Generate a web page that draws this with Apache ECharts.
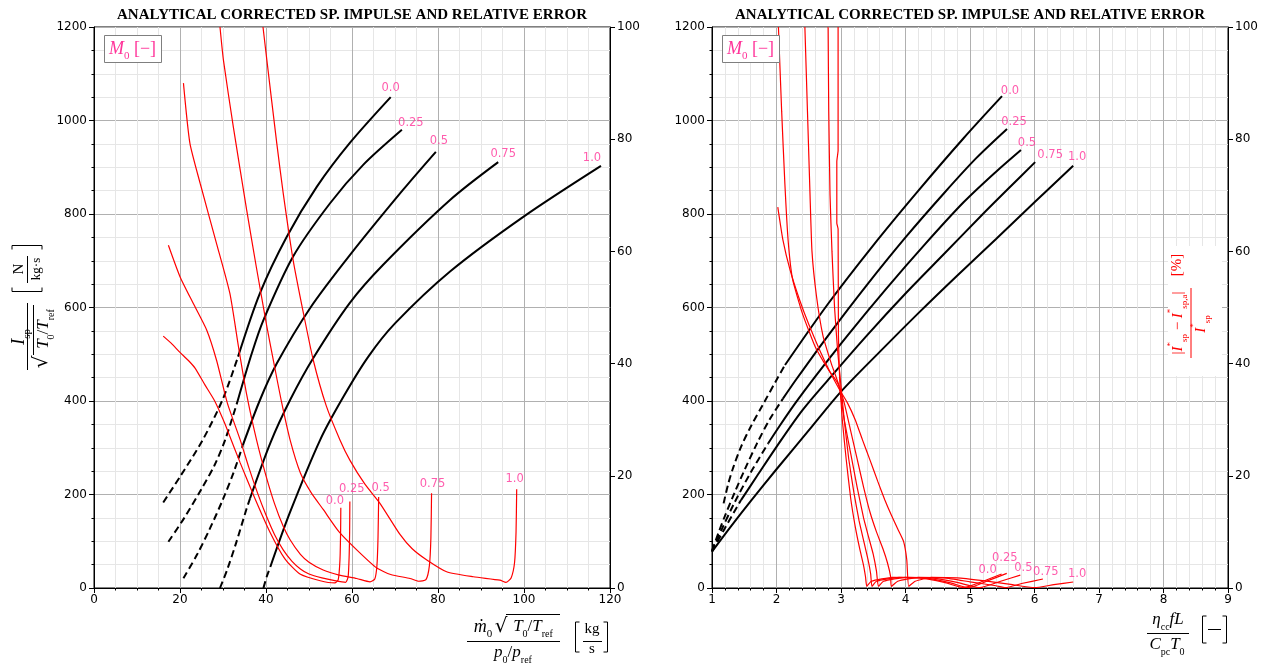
<!DOCTYPE html>
<html>
<head>
<meta charset="utf-8">
<script src="https://cdn.jsdelivr.net/npm/echarts/dist/echarts.min.js"></script>
<style>
  html, body { margin: 0; padding: 0; background: #fff; }
  #chart { width: 1264px; height: 666px; }
</style>
</head>
<body>
<div id="chart"></div>
<script>
// ---------------------------------------------------------------
// Flight Mach number levels (one curve per level in each panel)
// ---------------------------------------------------------------
const machLevels = ['0.0', '0.25', '0.5', '0.75', '1.0'];

// Left panel, black: corrected specific impulse vs corrected mass flow.
// Dashed branch first, then the solid branch (shares the junction point).
const flowIspDashed = [
  [[16.1, 183], [20, 238], [25.3, 317], [30, 405], [33.5, 495]],
  [[17.3, 99], [21, 150], [25, 212], [28, 262], [30.5, 317], [33.4, 400]],
  [[20.8, 21], [24, 72], [27, 128], [30, 190], [32.5, 248], [34.6, 305]],
  [[29.3, 0], [31, 40], [33, 95], [35.5, 170], [36.3, 192]],
  [[39.4, 0], [40.2, 25], [41, 45]]
];
const flowIspSolid = [
  [[33.5, 495], [38.6, 631], [44.8, 751], [51.8, 858], [59.5, 952], [69, 1050]],
  [[33.4, 400], [36.7, 502], [39.4, 573], [46.3, 709], [54.9, 823], [62.6, 905], [71.6, 980]],
  [[34.6, 305], [38.5, 400], [42.5, 480], [50.2, 598], [59.5, 712], [71.9, 852], [79.5, 933]],
  [[36.3, 192], [41, 310], [45.6, 402], [51, 492], [59.5, 610], [67.3, 692], [82.8, 830], [94, 911]],
  [[41, 45], [45.5, 160], [52.6, 317], [58, 409], [63.8, 495], [70, 566], [82.8, 677], [100, 795], [117.9, 903]]
];
// Left panel, red: relative error [%] vs corrected mass flow
const flowErr = [
  [[16.1, 44.9], [18, 43.6], [20, 42], [21.9, 40.6], [23.5, 39.2], [25.8, 36.2], [28.1, 33.3], [30.5, 29.2], [31.6, 27], [34, 22.3], [37.4, 16], [40.9, 10], [44.4, 5.2], [47.9, 2.5], [52.6, 1.3], [56, 0.9], [56.8, 1.5], [57.2, 5], [57.35, 10], [57.4, 14.3]],
  [[17.3, 61.1], [20, 55.5], [23.1, 50.7], [26.2, 46], [28.5, 40.6], [31, 33], [34, 26.4], [36, 21.5], [38, 17], [40, 13], [42, 9.5], [44, 6.8], [46, 4.8], [48, 3.4], [50, 2.5], [53, 1.8], [56, 1.3], [58.5, 1.0], [59.1, 2], [59.35, 6], [59.45, 10], [59.5, 15.4]],
  [[20.8, 90], [22.3, 79.3], [24.7, 72.1], [28.5, 61.4], [31.6, 52.5], [33.6, 43], [35.5, 34.5], [37.8, 26.4], [40, 20], [42, 15], [44, 11], [45.6, 8.6], [48, 6], [50, 4.6], [53.3, 3.2], [57, 2.3], [61.1, 1.7], [64.2, 1.1], [65.3, 1.6], [65.8, 4], [66.05, 9], [66.2, 16.2]],
  [[29.3, 100], [30.1, 94.1], [32.4, 82.2], [35.5, 67.4], [37.8, 57], [40.2, 46.6], [41.7, 40.6], [43.6, 33.2], [45.6, 26.4], [48, 20.5], [50.5, 17], [53.3, 14], [57, 10], [61.1, 6.8], [65.7, 3.6], [69, 2.4], [73.5, 1.7], [75.5, 1.2], [77.2, 1.5], [78, 4], [78.35, 9], [78.5, 16.9]],
  [[39.3, 100], [40.2, 94.1], [42.5, 79.3], [44, 70.4], [46.3, 58.5], [48.7, 49], [51, 40.6], [54, 32.5], [57.2, 26.4], [59.5, 22.8], [63, 18.5], [66.5, 15.1], [71.2, 9.5], [74, 7], [77.4, 5.0], [82, 2.9], [88.2, 2.0], [94.4, 1.4], [95.8, 1.0], [97, 1.8], [97.8, 4.5], [98.15, 10], [98.3, 17.6]]
];

// Right panel, black: corrected specific impulse vs heat-addition parameter
const heatIspDashed = [
  [[1.18, 181], [1.25, 222], [1.33, 258], [1.45, 302], [1.6, 345], [1.8, 395], [2.0, 445], [2.132, 477]],
  [[1.0, 80], [1.1, 118], [1.2, 154], [1.35, 204], [1.5, 251], [1.7, 310], [1.9, 362], [2.1, 405]],
  [[1.0, 78], [1.15, 125], [1.35, 183], [1.6, 247], [1.87, 309]],
  [[1.0, 78], [1.2, 128], [1.45, 188]],
  []
];
const heatIspSolid = [
  [[2.132, 477], [2.8, 608], [3.5, 733], [4.2, 850], [4.9, 962], [5.496, 1052]],
  [[2.1, 405], [2.31, 447], [2.8, 540], [3.4, 648], [4.0, 750], [4.6, 845], [5.1, 920], [5.574, 982]],
  [[1.87, 309], [2.05, 347], [2.3, 397], [2.57, 447], [3.1, 540], [3.7, 640], [4.3, 735], [4.9, 825], [5.4, 890], [5.79, 937]],
  [[1.45, 188], [1.7, 240], [2.0, 302], [2.4, 380], [2.83, 450], [3.4, 540], [4.0, 630], [4.6, 715], [5.2, 800], [5.6, 855], [6.01, 911]],
  [[1.0, 78], [1.3, 133], [1.6, 186], [2.0, 254], [2.5, 337], [3.0, 420], [3.6, 505], [4.2, 588], [4.8, 668], [5.4, 746], [6.0, 825], [6.6, 903]]
];
// Right panel, red: relative error [%] vs heat-addition parameter
const heatErr = [
  [[2.955, 100], [2.955, 78], [2.935, 76], [2.935, 65], [2.955, 64], [2.96, 45], [2.98, 37], [3.02, 30], [3.08, 23], [3.15, 16], [3.22, 11], [3.29, 7], [3.35, 4], [3.38, 2], [3.4, 0.3], [3.47, 1.2], [3.8, 1.9], [4.2, 1.8], [4.6, 1.0], [4.9, 0.05], [5.2, 1.2], [5.49, 2.5]],
  [[2.8, 100], [2.81, 85], [2.83, 70], [2.86, 60], [2.9, 50], [2.95, 42], [3.0, 36], [3.05, 30], [3.12, 23], [3.2, 17], [3.28, 12], [3.36, 8], [3.42, 5], [3.46, 2.5], [3.48, 0.3], [3.55, 1.2], [3.9, 1.9], [4.3, 1.8], [4.7, 0.9], [4.98, 0.05], [5.3, 1.4], [5.57, 2.6]],
  [[2.44, 100], [2.48, 85], [2.52, 70], [2.55, 60], [2.62, 52], [2.72, 45], [2.85, 40], [2.97, 36], [3.05, 30], [3.15, 24], [3.25, 18], [3.35, 12.5], [3.43, 9], [3.5, 6], [3.55, 3], [3.58, 0.3], [3.66, 1.2], [4.0, 1.9], [4.4, 1.8], [4.8, 1.0], [5.15, 0.05], [5.5, 1.3], [5.78, 2.3]],
  [[2.03, 100], [2.08, 85], [2.13, 72], [2.18, 62], [2.25, 55], [2.4, 49], [2.6, 43], [2.8, 39], [2.95, 36.5], [3.05, 33], [3.15, 28], [3.25, 23], [3.35, 18], [3.45, 13.5], [3.55, 10], [3.65, 7], [3.72, 4.5], [3.77, 2], [3.78, 0.3], [3.88, 1.2], [4.2, 1.9], [4.6, 1.8], [5.0, 1.1], [5.4, 0.4], [5.55, 0.05], [5.8, 0.8], [6.13, 1.6]],
  [[2.02, 67.9], [2.1, 62], [2.21, 56.7], [2.36, 51.3], [2.5, 47], [2.67, 42.4], [2.83, 38.5], [2.98, 35.3], [3.1, 33], [3.22, 30], [3.33, 26.5], [3.45, 22.8], [3.57, 19], [3.68, 15.7], [3.78, 13], [3.88, 10.5], [3.97, 8.3], [4.02, 5], [4.05, 0.3], [4.15, 1.2], [4.4, 1.9], [4.8, 1.8], [5.2, 1.3], [5.6, 0.7], [6.0, 0.05], [6.3, 0.6], [6.6, 1.07]]
];

// ---------------------------------------------------------------
// Styling / layout
// ---------------------------------------------------------------
const PINK = '#ff3399';
const RED = '#ff0000';
const TICK_FONT = 'DejaVu Sans';
const MATH_FONT = 'Liberation Serif';

// pixel shifts of the level tags relative to the curve end points
const tagShiftFlowIsp = [[0, -9], [9, -7], [3, -11], [5, -8], [-9, -8]];
const tagShiftFlowErr = [[-6, -7], [2, -13], [2, -9], [1, -9], [-2, -10]];
const tagShiftHeatIsp = [[8, -5], [7, -7], [6, -7], [15, -7], [4, -9]];
const tagShiftHeatErr = [[-14, -4], [-2, -15], [3, -7], [3, -7], [4, -8]];

const plainNumber = v => String(v);

function xAxis(gi, min, max, interval, minorSplit) {
  return {
    type: 'value', gridIndex: gi, min, max, interval, position: 'bottom',
    axisLine: { show: true, onZero: false, lineStyle: { color: '#000', width: 1 } },
    axisTick: { show: true, length: 5, lineStyle: { color: '#000' } },
    minorTick: { show: true, splitNumber: minorSplit, length: 2.5, lineStyle: { color: '#000' } },
    axisLabel: { color: '#000', fontSize: 12, fontFamily: TICK_FONT, margin: 6, formatter: plainNumber },
    splitLine: { show: true, lineStyle: { color: '#b0b0b0', width: 1 } },
    minorSplitLine: { show: true, lineStyle: { color: '#e6e6e6', width: 1 } }
  };
}
function yAxisMain(gi) {
  return {
    type: 'value', gridIndex: gi, min: 0, max: 1200, interval: 200, position: 'left',
    axisLine: { show: true, onZero: false, lineStyle: { color: '#000', width: 1 } },
    axisTick: { show: true, length: 5, lineStyle: { color: '#000' } },
    minorTick: { show: true, splitNumber: 4, length: 2.5, lineStyle: { color: '#000' } },
    axisLabel: { color: '#000', fontSize: 12, fontFamily: TICK_FONT, margin: 7, formatter: plainNumber },
    splitLine: { show: true, lineStyle: { color: '#b0b0b0', width: 1 } },
    minorSplitLine: { show: true, lineStyle: { color: '#e6e6e6', width: 1 } }
  };
}
function yAxisErr(gi) {
  return {
    type: 'value', gridIndex: gi, min: 0, max: 100, interval: 20, position: 'right',
    axisLine: { show: true, onZero: false, lineStyle: { color: '#000', width: 1 } },
    axisTick: { show: true, length: 5, lineStyle: { color: '#000' } },
    minorTick: { show: false },
    axisLabel: { color: '#000', fontSize: 12, fontFamily: TICK_FONT, margin: 7, formatter: plainNumber },
    splitLine: { show: false }
  };
}

function curve(data, xi, yi, color, width, type, z, smooth) {
  return {
    type: 'line', xAxisIndex: xi, yAxisIndex: yi, data,
    symbol: 'none', showSymbol: false, smooth: smooth,
    silent: true, z: z, lineStyle: { color, width, type }, clip: true
  };
}
function tags(xi, yi, curves, shifts) {
  return {
    type: 'scatter', xAxisIndex: xi, yAxisIndex: yi, silent: true, z: 20,
    symbolSize: 1, itemStyle: { color: 'rgba(0,0,0,0)' },
    label: { show: true, position: 'inside', color: PINK, fontSize: 11.5, fontFamily: TICK_FONT },
    data: curves.map((c, i) => ({
      value: c[c.length - 1],
      label: { formatter: machLevels[i], offset: shifts[i] }
    }))
  };
}

const series = [];
machLevels.forEach((m, i) => {
  if (flowIspDashed[i].length) series.push(curve(flowIspDashed[i], 0, 0, '#000', 2, [7, 4], 3, 0.3));
  series.push(curve(flowIspSolid[i], 0, 0, '#000', 2, 'solid', 3, 0.3));
  series.push(curve(flowErr[i], 0, 1, RED, 1.2, 'solid', 5, 0.2));
  if (heatIspDashed[i].length) series.push(curve(heatIspDashed[i], 1, 2, '#000', 2, [7, 4], 3, 0.3));
  series.push(curve(heatIspSolid[i], 1, 2, '#000', 2, 'solid', 3, 0.3));
  series.push(curve(heatErr[i], 1, 3, RED, 1.2, 'solid', 5, 0.15));
});
series.push(tags(0, 0, flowIspSolid, tagShiftFlowIsp));
series.push(tags(0, 1, flowErr, tagShiftFlowErr));
series.push(tags(1, 2, heatIspSolid, tagShiftHeatIsp));
series.push(tags(1, 3, heatErr, tagShiftHeatErr));

// ---------------------------------------------------------------
// Math-style annotation helpers (titles, axis names, legend box)
// ---------------------------------------------------------------
function richSet(color, big, small) {
  const base = { fill: color, color: color, fontFamily: MATH_FONT, lineHeight: big + 8 };
  return {
    it: Object.assign({}, base, { fontStyle: 'italic', fontSize: big }),
    rm: Object.assign({}, base, { fontSize: big }),
    rad: Object.assign({}, base, { fontFamily: 'DejaVu Serif', fontSize: big * 1.05 }),
    sub: { fill: color, color: color, fontFamily: MATH_FONT, fontSize: small, verticalAlign: 'bottom' },
    sup: { fill: color, color: color, fontFamily: MATH_FONT, fontSize: small, verticalAlign: 'top' }
  };
}
function txt(x, y, text, opts) {
  opts = opts || {};
  const color = opts.color || '#000';
  return {
    type: 'text', x, y, rotation: opts.rot || 0, silent: true, z: 100,
    style: {
      text, rich: richSet(color, opts.big || 17, opts.small || 11),
      fill: color, font: (opts.big || 17) + 'px "' + MATH_FONT + '"',
      align: 'center', verticalAlign: 'middle', textAlign: 'center', textVerticalAlign: 'middle'
    }
  };
}
function seg(x1, y1, x2, y2, color, w) {
  return { type: 'line', silent: true, z: 100, shape: { x1, y1, x2, y2 }, style: { stroke: color || '#000', lineWidth: w || 1 } };
}
function poly(points, color) {
  return { type: 'polyline', silent: true, z: 100, shape: { points }, style: { stroke: color || '#000', lineWidth: 1, fill: null } };
}
// square brackets drawn as thin strokes
function bracketV(x, y1, y2, dir) {           // upright bracket, dir=+1 for "[" and -1 for "]"
  return poly([[x + 4 * dir, y1], [x, y1], [x, y2], [x + 4 * dir, y2]]);
}
function bracketH(y, x1, x2, dir) {           // bracket turned a quarter, dir=-1 for "[" and +1 for "]"
  return poly([[x1, y + 4 * dir], [x1, y], [x2, y], [x2, y + 4 * dir]]);
}
const UP = Math.PI / 2;
const TITLE = 'ANALYTICAL CORRECTED SP. IMPULSE AND RELATIVE ERROR';
const titleStyle = { text: TITLE, font: 'bold 15px "Liberation Serif"', fill: '#000', align: 'center', verticalAlign: 'middle', textAlign: 'center', textVerticalAlign: 'middle' };

const graphic = [
  // panel titles
  { type: 'text', x: 352, y: 15, silent: true, style: titleStyle },
  { type: 'text', x: 970, y: 15, silent: true, style: titleStyle },

  // level legend boxes
  { type: 'rect', shape: { x: 104.5, y: 35.5, width: 57, height: 27 }, style: { fill: '#fff', stroke: '#7f7f7f', lineWidth: 1 }, z: 90, silent: true },
  txt(132.5, 49, '{it|M}{sub|0} {rm|[−]}', { color: PINK, big: 18, small: 11 }),
  { type: 'rect', shape: { x: 722.5, y: 35.5, width: 57, height: 27 }, style: { fill: '#fff', stroke: '#7f7f7f', lineWidth: 1 }, z: 90, silent: true },
  txt(750.5, 49, '{it|M}{sub|0} {rm|[−]}', { color: PINK, big: 18, small: 11 }),

  // left y-axis name: I_sp / sqrt(T0/Tref)  [N/(kg s)]
  txt(19, 337, '{it|I}{sub|sp}', { rot: UP, big: 19, small: 11 }),
  seg(27.5, 303, 27.5, 370),
  txt(44, 329, '{it|T}{sub|0}{rm|/}{it|T}{sub|ref}', { rot: UP, big: 17, small: 10 }),
  txt(42, 362, '{rad|√}', { rot: UP, big: 19 }),
  seg(33.5, 305, 33.5, 355),
  bracketH(291.5, 12, 42, -1),
  bracketH(245.5, 12, 42, 1),
  txt(19, 269, '{rm|N}', { rot: UP, big: 15 }),
  seg(27.5, 256, 27.5, 283),
  txt(37, 269, '{rm|kg·s}', { rot: UP, big: 13 }),

  // left x-axis name: m0 sqrt(T0/Tref) / (p0/pref)  [kg/s]
  txt(483, 627, '{it|ṁ}{sub|0}', { big: 18, small: 11 }),
  txt(501, 627, '{rad|√}', { big: 19 }),
  seg(506, 614.5, 560, 614.5),
  txt(533, 627, '{it|T}{sub|0}{rm|/}{it|T}{sub|ref}', { big: 17, small: 10 }),
  seg(467, 641.5, 560, 641.5),
  txt(513, 653, '{it|p}{sub|0}{rm|/}{it|p}{sub|ref}', { big: 17, small: 10 }),
  bracketV(575.5, 622, 652, 1),
  txt(592, 629, '{rm|kg}', { big: 15 }),
  seg(583, 641.5, 602, 641.5),
  txt(592, 649, '{rm|s}', { big: 15 }),
  bracketV(607.5, 622, 652, -1),

  // right x-axis name: eta_cc f L / (C_pc T0)  [-]
  txt(1168, 620, '{it|η}{sub|cc}{it|fL}', { big: 17, small: 10 }),
  seg(1147, 633.5, 1189, 633.5),
  txt(1167, 645, '{it|C}{sub|pc}{it|T}{sub|0}', { big: 17, small: 10 }),
  bracketV(1202.5, 616, 643, 1),
  seg(1208, 629.5, 1221, 629.5),
  bracketV(1226.5, 616, 643, -1),

  // right panel secondary axis name (red): |I*sp - I*sp,a| / I*sp  [%]
  { type: 'rect', shape: { x: 1168, y: 246, width: 54, height: 130 }, style: { fill: '#fff' }, z: 90, silent: true },
  txt(1178, 323, '{rm||}{it|I}{sup|*}{sub|sp}{rm| − }{it|I}{sup|*}{sub|sp,a}{rm||}', { rot: UP, color: RED, big: 15, small: 9 }),
  seg(1191, 288, 1191, 358, RED, 1),
  txt(1201, 324, '{it|I}{sup|*}{sub|sp}', { rot: UP, color: RED, big: 15, small: 9 }),
  txt(1177, 265, '{rm|[%]}', { rot: UP, color: RED, big: 15 })
];

const option = {
  backgroundColor: '#fff',
  animation: false,
  grid: [
    { left: 94, top: 27, width: 516, height: 561, show: true, borderColor: '#000', borderWidth: 1, backgroundColor: 'transparent' },
    { left: 712, top: 27, width: 516, height: 561, show: true, borderColor: '#000', borderWidth: 1, backgroundColor: 'transparent' }
  ],
  xAxis: [xAxis(0, 0, 120, 20, 4), xAxis(1, 1, 9, 1, 5)],
  yAxis: [yAxisMain(0), yAxisErr(0), yAxisMain(1), yAxisErr(1)],
  series,
  graphic
};

const chart = echarts.init(document.getElementById('chart'), null, { renderer: 'canvas' });
chart.setOption(option);
</script>
</body>
</html>
